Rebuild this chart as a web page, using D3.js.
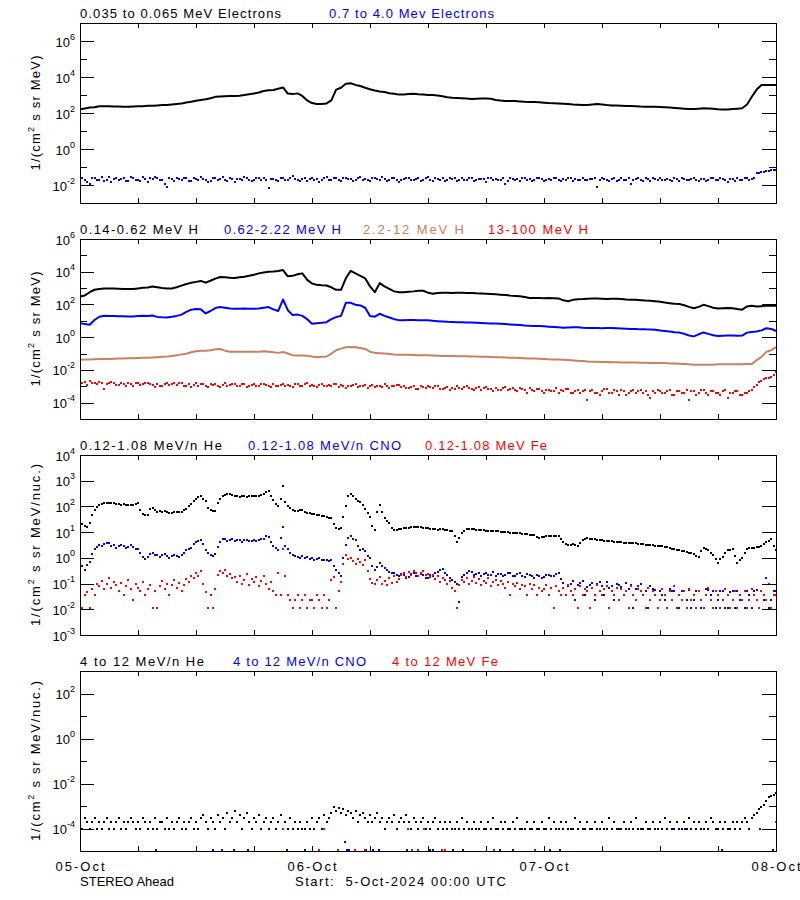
<!DOCTYPE html>
<html><head><meta charset="utf-8">
<script src="https://cdn.jsdelivr.net/npm/d3@7/dist/d3.min.js"></script>
<style>
html,body{margin:0;padding:0;background:#fff;}
svg{display:block;}
text{font-family:"Liberation Sans",Arial,sans-serif;}
</style></head><body>
<svg id="chart" width="800" height="900"></svg>
<script>
// ---------------- time grids (hours after 2024-10-05 00:00 UTC) ----------------
const startDate = "2024-10-05T00:00:00Z";
const halfHourSteps = d3.range(145).map(i => i * 0.5);
const quarterHourSteps = d3.range(289).map(i => i * 0.25);
const tickHours = d3.range(0, 73, 6);
const dayHours = [0, 24, 48, 72];

// ---------------- Panel 1: electrons ----------------
const electronsLow = [ // 0.035-0.065 MeV (half-hourly)
 160,180,200,210,240,240,235,230,230,225,
 225,230,235,240,250,255,265,275,280,295,
 315,340,380,420,480,525,575,660,790,830,
 850,870,870,910,1000,1100,1200,1380,1660,1820,
 1900,2240,2630,1200,1120,1230,890,500,355,315,
 315,340,500,2000,2510,4170,4470,3630,3160,2510,
 2090,1780,1580,1480,1260,1170,1050,1070,1150,1170,
 1100,1050,1000,1000,930,850,760,710,680,660,
 630,600,615,630,630,615,525,490,470,470,
 457,437,417,407,407,390,372,355,347,340,
 330,315,300,290,275,280,300,315,300,275,
 265,257,250,245,245,240,230,225,225,220,
 215,210,200,190,182,174,166,166,174,182,
 178,170,162,158,158,166,174,182,300,800,
 2000,3630,3630,3630,3630];
const electronsHigh = [ // 0.7-4.0 MeV (quarter-hourly)
 .022,.026,.018,.015,.012,.024,.025,.02,
 .02,.028,.016,.019,.027,.014,.021,.025,
 .019,.022,.024,.016,.017,.028,.023,.019,
 .02,.017,.029,.021,.015,.024,.021,.027,
 .025,.019,.018,.012,.008,.023,.022,.017,
 .026,.021,.019,.024,.023,.017,.016,.025,
 .021,.019,.028,.022,.02,.015,.017,.024,
 .024,.02,.022,.027,.019,.016,.025,.022,
 .015,.021,.022,.018,.027,.023,.02,.016,
 .018,.025,.023,.02,.026,.019,.007,.022,
 .021,.018,.017,.024,.024,.019,.02,.026,
 .03,.022,.019,.016,.022,.025,.016,.021,
 .025,.019,.021,.014,.018,.023,.027,.02,
 .02,.024,.023,.018,.016,.026,.024,.021,
 .021,.017,.019,.023,.029,.02,.022,.018,
 .017,.024,.025,.021,.02,.027,.022,.016,
 .018,.023,.026,.02,.015,.018,.021,.025,
 .024,.019,.019,.022,.023,.017,.02,.026,
 .028,.02,.017,.023,.022,.019,.025,.016,
 .018,.023,.021,.026,.016,.02,.024,.018,
 .02,.025,.026,.017,.019,.022,.022,.021,
 .015,.026,.023,.018,.021,.02,.018,.025,
 .011,.017,.024,.021,.02,.022,.017,.023,
 .025,.019,.021,.016,.019,.024,.023,.021,
 .016,.02,.022,.018,.026,.023,.018,.016,
 .021,.019,.024,.025,.017,.022,.02,.018,
 .023,.02,.019,.021,.022,.026,.008,.019,
 .025,.022,.018,.017,.021,.023,.016,.02,
 .024,.019,.02,.024,.012,.018,.022,.025,
 .019,.016,.025,.021,.017,.024,.021,.018,
 .023,.02,.018,.022,.02,.017,.026,.021,
 .016,.024,.022,.019,.019,.022,.024,.018,
 .017,.021,.021,.016,.02,.025,.025,.02,
 .018,.023,.022,.019,.015,.021,.021,.017,
 .024,.02,.019,.023,.023,.018,.021,.025,
 .045,.048,.05,.055,.06,.063,.065,.066,
 .068];

// ---------------- Panel 2: protons ----------------
const protons014 = [ // 0.14-0.62 MeV H (half-hourly)
 310,355,560,790,890,930,955,930,910,890,
 870,870,955,1050,1100,1260,1120,1000,955,955,
 1120,1410,1780,2090,2400,2750,2140,2820,3800,4790,
 4570,4270,4170,4570,5010,5620,6610,7940,8910,10000,
 10500,11200,12600,5250,5620,7080,7940,3160,1910,1580,
 1480,1450,1120,790,790,3980,11200,7940,5620,3980,
 1260,560,2000,1260,890,630,550,560,600,630,
 680,690,525,457,500,525,513,500,525,513,
 500,500,479,468,457,437,417,398,372,347,
 331,316,282,251,245,245,240,245,240,234,
 178,158,191,209,214,224,234,229,224,219,
 224,224,214,200,191,191,182,174,170,158,
 148,132,120,110,107,89,71,58,71,95,
 79,63,56,58,60,59,52,48,76,83,
 76,79,83,87,83];
const protons062 = [ // 0.62-2.22 MeV H (half-hourly)
 7.4,6.3,5.8,11.2,17.8,20.4,20,19.5,19.1,19.1,
 18.6,18.6,20,20.4,20,20.9,17.4,16.6,16.2,17.8,
 20,24,35.5,47.9,52.5,50.1,28.2,39.8,60.3,69.2,
 63.1,57.5,55,55,56.2,55,55,57.5,63.1,69.2,
 50.1,39.8,200,44.7,22.4,24,20,12.6,6.6,7.2,
 7.6,8.3,12.6,17,20,126,126,95.5,87.1,63.1,
 20,17.8,26.9,20,15.8,12.6,11,11,11.2,11.2,
 11,10.7,10.7,10,9.5,9.1,8.7,8.5,8.3,8.1,
 7.9,7.9,7.6,7.4,7.2,6.9,6.8,6.6,6.3,6,
 5.8,5.5,5.2,5,4.9,4.8,4.6,4.4,4.2,4,
 3.8,3.9,4,4,3.8,3.7,3.7,3.6,3.5,3.6,
 3.6,3.5,3.4,3.3,3.2,3.2,3,3,2.9,2.8,
 2.6,2.4,2.2,2,1.9,1.6,1.26,1.12,1.5,1.95,
 1.6,1.3,1.2,1.23,1.26,1.26,1.23,1.26,1.9,2.1,
 2.2,2.6,3.5,3.2,2.4];
const protons22 = [ // 2.2-12 MeV H (half-hourly)
 .042,.043,.044,.045,.046,.047,.047,.048,.049,.05,
 .051,.052,.054,.055,.056,.058,.06,.063,.066,.071,
 .079,.089,.098,.12,.14,.15,.15,.16,.18,.19,
 .15,.13,.13,.13,.13,.13,.13,.13,.14,.13,
 .12,.11,.126,.1,.079,.076,.076,.074,.066,.06,
 .063,.066,.1,.16,.2,.24,.25,.24,.22,.19,
 .13,.11,.105,.1,.093,.087,.085,.085,.083,.081,
 .079,.079,.078,.076,.074,.072,.071,.071,.069,.068,
 .068,.066,.065,.063,.063,.062,.06,.059,.058,.056,
 .055,.054,.052,.05,.049,.048,.047,.045,.044,.043,
 .042,.04,.038,.036,.035,.033,.032,.031,.03,.03,
 .029,.029,.028,.028,.028,.028,.027,.027,.026,.026,
 .026,.026,.025,.025,.024,.023,.022,.021,.021,.021,
 .021,.021,.022,.022,.022,.022,.022,.022,.023,.023,
 .04,.063,.126,.16,.25];
const protons13 = [ // 13-100 MeV H (quarter-hourly)
 13e-4,15e-4,18e-4,12e-4,20e-4,17e-4,16e-4,14e-4,
 19e-4,15e-4,7e-4,13e-4,15e-4,18e-4,17e-4,12e-4,
 12e-4,16e-4,14e-4,11e-4,16e-4,13e-4,11e-4,15e-4,
 15e-4,12e-4,13e-4,17e-4,17e-4,14e-4,12e-4,9e-4,
 14e-4,11e-4,10e-4,13e-4,15e-4,12e-4,13e-4,16e-4,
 12e-4,15e-4,16e-4,10e-4,11e-4,14e-4,9e-4,12e-4,
 15e-4,11e-4,13e-4,14e-4,11e-4,9e-4,14e-4,12e-4,
 13e-4,10e-4,9e-4,12e-4,15e-4,11e-4,12e-4,14e-4,
 14e-4,10e-4,11e-4,13e-4,13e-4,9e-4,10e-4,12e-4,
 13e-4,11e-4,10e-4,14e-4,14e-4,12e-4,11e-4,9e-4,
 13e-4,10e-4,10e-4,12e-4,14e-4,11e-4,12e-4,10e-4,
 9e-4,13e-4,13e-4,11e-4,11e-4,14e-4,15e-4,10e-4,
 12e-4,10e-4,9e-4,12e-4,13e-4,11e-4,11e-4,12e-4,
 10e-4,13e-4,14e-4,9e-4,12e-4,11e-4,8e-4,10e-4,
 11e-4,12e-4,13e-4,9e-4,10e-4,11e-4,12e-4,8e-4,
 10e-4,12e-4,9e-4,11e-4,11e-4,9e-4,13e-4,10e-4,
 8e-4,10e-4,10e-4,12e-4,12e-4,9e-4,11e-4,8e-4,
 8e-4,9e-4,10e-4,7e-4,7e-4,11e-4,9e-4,8e-4,
 11e-4,9e-4,8e-4,10e-4,10e-4,7e-4,7e-4,8e-4,
 9e-4,6e-4,8e-4,7e-4,10e-4,8e-4,7e-4,9e-4,
 10e-4,8e-4,7e-4,6e-4,8e-4,9e-4,6e-4,8e-4,
 9e-4,7e-4,7e-4,5e-4,8e-4,6e-4,6e-4,8e-4,
 9e-4,6e-4,7e-4,8e-4,6e-4,5e-4,8e-4,7e-4,
 6e-4,4e-4,8e-4,6e-4,5e-4,7e-4,7e-4,5e-4,
 4e-4,6e-4,6e-4,5e-4,5e-4,8e-4,4e-4,6e-4,
 5e-4,7e-4,7e-4,4e-4,4e-4,5e-4,6e-4,4e-4,
 5e-4,6e-4,1.5e-4,5e-4,6e-4,4e-4,4e-4,3e-4,
 5e-4,7e-4,7e-4,4e-4,4e-4,6e-4,5e-4,3e-4,
 6e-4,5e-4,3e-4,4e-4,5e-4,6e-4,4e-4,5e-4,
 6e-4,4e-4,5e-4,3e-4,2e-4,5e-4,4e-4,6e-4,
 5e-4,4e-4,4e-4,5e-4,6e-4,3e-4,3e-4,5e-4,
 5e-4,4e-4,4e-4,6e-4,1.5e-4,5e-4,5e-4,3e-4,
 4e-4,6e-4,6e-4,4e-4,3e-4,5e-4,5e-4,4e-4,
 4e-4,3e-4,5e-4,6e-4,2e-4,4e-4,4e-4,5e-4,
 5e-4,3e-4,3e-4,4e-4,4e-4,5e-4,6e-4,9e-4,
 12e-4,18e-4,22e-4,28e-4,30e-4,32e-4,35e-4,50e-4,
 75e-4];

// ---------------- Panel 3: 0.12-1.08 MeV/n ions (quarter-hourly) ----------------
const heliumLow = [
 32,20,18,16,22,45,71,95,
 112,125,132,140,141,135,132,128,
 126,118,120,115,112,110,115,125,
 132,70,50,45,47,80,89,70,
 63,66,60,65,63,56,58,60,
 59,62,60,70,83,100,120,160,
 200,240,257,200,158,90,71,66,
 68,130,200,250,282,300,316,280,
 263,250,240,245,251,240,245,250,
 257,260,263,290,316,370,398,260,
 178,120,105,200,617,150,100,85,
 71,68,66,70,72,60,56,54,
 52,50,48,46,44,42,40,37,
 35,20,14,13,14.5,40,100,250,
 316,250,200,170,151,110,79,55,
 40,18,12,60,115,60,35,28,
 22,15,12.6,12.5,12.9,13.5,14.1,14.6,
 15.1,15.5,16.2,16,15.8,15.2,14.8,14.5,
 14.1,13.8,13.5,12.8,12.6,13,13.2,12.5,
 12,11.5,11.2,7,4,6,8.9,11,
 12.9,13,13.2,12.8,12.6,12.3,12,11.8,
 11.5,11.3,11.2,11,10.7,10.6,10.5,10.2,
 10,9.7,9.5,9.4,9.3,9.1,8.9,8.7,
 8.5,8.2,7.9,7.7,7.6,6.5,5.8,6.2,
 6.6,6.9,7.2,7.1,7.1,7,6.9,5.5,
 4,3.5,3.2,3.3,3.5,3.1,2.8,3.8,
 5,5.5,5.8,5.6,5.5,5.2,5,4.9,
 4.8,4.7,4.6,4.5,4.5,4.3,4.2,4.1,
 4,3.9,3.8,3.7,3.7,3.8,3.8,3.6,
 3.5,3.4,3.3,3.2,3.2,3.1,3,2.9,
 2.8,2.8,2.7,2.6,2.5,2.3,2.2,2.1,
 2,1.9,1.8,1.7,1.6,1.5,1.4,1.2,
 1.1,1.8,2.5,2.2,2,1.6,1.3,0.9,
 0.63,0.9,1.1,1.5,2,2.1,2.2,1.2,
 0.63,0.8,1,1.6,2.3,2.4,2.5,2.5,
 2.6,2.7,2.8,3.4,4,4.6,5.2,3,
 2];
const cnoLow = [
 1.0,0.5,0.35,0.55,0.7,1.4,2.2,2.6,
 3.2,2.9,3.5,3.9,3.7,3.0,3.2,2.5,
 2.8,3.3,3.0,2.4,2.6,3.1,2.7,2.2,
 2.3,1.5,1.1,0.9,1.1,1.4,1.6,1.3,
 1.3,1.1,1.26,1.4,1.2,1.0,1.15,1.3,
 1.17,1.1,1.26,1.6,2.0,2.3,2.5,3.4,
 4.0,4.5,4.9,3.5,2.0,1.5,1.3,1.2,
 1.4,2.6,4.0,5.5,5.2,4.4,5.0,5.4,
 4.6,4.9,5.0,4.3,4.8,5.1,4.6,4.4,
 5.0,4.5,4.8,5.3,5.6,6.8,6.6,4.0,
 2.8,2.4,2.0,6.0,16,3.0,2.2,1.5,
 1.26,1.2,1.1,0.95,1.15,1.0,1.07,0.9,
 1.0,0.85,0.89,0.95,0.83,0.8,0.83,0.75,
 0.79,0.5,0.35,0.25,0.2,1.0,3.2,6.0,
 7.1,5.5,5.0,3.0,2.0,2.2,1.9,1.2,
 1.0,0.5,0.34,0.45,0.62,0.5,0.4,0.33,
 0.29,0.26,0.25,0.21,0.2,0.24,0.22,0.17,
 0.18,0.23,0.25,0.2,0.19,0.24,0.21,0.17,
 0.17,0.21,0.2,0.26,0.28,0.35,0.38,0.26,
 0.22,0.17,0.14,0.12,0.1,0.02,0.18,0.22,
 0.25,0.3,0.28,0.22,0.24,0.26,0.2,0.23,
 0.26,0.21,0.22,0.27,0.2,0.23,0.24,0.19,
 0.21,0.25,0.25,0.2,0.19,0.24,0.26,0.2,
 0.18,0.23,0.22,0.19,0.16,0.21,0.2,0.17,
 0.18,0.22,0.22,0.19,0.2,0.23,0.25,0.15,
 0.11,0.035,0.079,0.1,0.126,0.023,0.089,0.11,
 0.13,0.035,0.076,0.09,0.11,0.023,0.1,0.12,
 0.083,0.035,0.12,0.07,0.079,0.023,0.1,0.085,
 0.071,0.035,0.105,0.06,0.089,0.011,0.063,0.08,
 0.1,0.035,0.05,0.011,0.079,0.06,0.056,0.011,
 0.05,0.035,0.023,0.011,0.063,0.05,0.05,0.011,
 0.011,0.05,0.05,0.023,0.056,0.011,0.023,0.05,
 0.05,0.011,0.011,0.06,0.056,0.035,0.05,0.011,
 0.023,0.05,0.05,0.011,0.011,0.045,0.052,0.011,
 0.05,0.023,0.023,0.011,0.05,0.035,0.011,0.05,
 0.056,0.011,0.05,0.023,0.16,0.011,0.023,0.05,
 0.05];
const ironLow = [
 0.048,0.011,0.035,0.048,0.011,0.06,0.035,0.1,
 0.08,0.13,0.06,0.1,0.16,0.07,0.12,0.09,
 0.05,0.11,0.035,0.08,0.14,0.06,0.023,0.1,
 0.07,0.05,0.12,0.035,0.06,0.09,0.011,0.05,
 0.011,0.08,0.13,0.06,0.1,0.035,0.09,0.14,
 0.07,0.11,0.05,0.09,0.15,0.12,0.2,0.17,
 0.25,0.19,0.3,0.1,0.048,0.011,0.035,0.011,
 0.06,0.22,0.3,0.26,0.35,0.2,0.24,0.16,
 0.18,0.12,0.2,0.1,0.14,0.23,0.09,0.15,
 0.12,0.18,0.08,0.13,0.2,0.1,0.06,0.12,
 0.05,0.035,0.25,0.035,2.3,0.2,0.035,0.023,
 0.011,0.023,0.035,0.011,0.023,0.035,0.011,0.023,
 0.023,0.011,0.035,0.023,0.011,0.035,0.011,0.023,
 0.14,0.18,0.011,0.05,0.12,0.6,1.3,0.9,
 1.0,0.75,0.6,0.9,0.7,0.55,0.8,0.3,
 0.15,0.11,0.1,0.14,0.18,0.1,0.13,0.09,
 0.16,0.11,0.2,0.12,0.15,0.22,0.25,0.18,
 0.28,0.22,0.3,0.26,0.2,0.25,0.3,0.22,
 0.24,0.18,0.21,0.15,0.19,0.12,0.16,0.14,
 0.1,0.13,0.07,0.05,0.011,0.09,0.14,0.12,
 0.16,0.1,0.13,0.18,0.11,0.15,0.09,0.13,
 0.11,0.16,0.08,0.12,0.14,0.09,0.13,0.1,
 0.07,0.12,0.035,0.1,0.08,0.11,0.06,0.09,
 0.08,0.035,0.1,0.06,0.09,0.035,0.07,0.05,
 0.06,0.09,0.035,0.07,0.011,0.08,0.05,0.035,
 0.07,0.035,0.09,0.05,0.035,0.06,0.011,0.08,
 0.035,0.06,0.05,0.011,0.07,0.035,0.09,0.05,
 0.035,0.06,0.08,0.011,0.05,0.035,0.07,0.023,
 0.06,0.035,0.05,0.011,0.08,0.035,0.023,0.06,
 0.05,0.035,0.011,0.07,0.023,0.05,0.035,0.011,
 0.023,0.06,0.035,0.011,0.05,0.023,0.08,0.011,
 0.035,0.023,0.05,0.011,0.06,0.023,0.035,0.011,
 0.05,0.023,0.011,0.035,0.07,0.023,0.011,0.05,
 0.035,0.011,0.023,0.06,0.035,0.011,0.023,0.05,
 0.011,0.035,0.023,0.05,0.011,0.023,0.06,0.035,
 0.023,0.011,0.05,0.035,0.023,0.1,0.011,0.035,
 0.035];

// ---------------- Panel 4: 4-12 MeV/n ions ----------------
const heliumHigh = [ // quarter-hourly
 2e-4,1e-4,3e-4,2e-4,1e-4,2e-4,3e-4,1e-4,
 2e-4,1e-4,2e-4,3e-4,1e-4,2e-4,1e-4,2e-4,
 3e-4,1e-4,2e-4,1e-4,2e-4,3e-4,2e-4,1e-4,
 2e-4,1e-4,3e-4,2e-4,1e-4,2e-4,1e-4,3e-4,
 1e-4,2e-4,2e-4,1e-4,3e-4,1e-4,2e-4,1e-4,
 2e-4,3e-4,1e-4,2e-4,1e-4,2e-4,3e-4,1e-4,
 2e-4,1e-4,3e-4,4e-4,2e-4,1e-4,3e-4,2e-4,
 1e-4,4e-4,2e-4,3e-4,1e-4,5e-4,2e-4,3e-4,
 6e-4,2e-4,4e-4,1e-4,3e-4,5e-4,2e-4,1e-4,
 3e-4,2e-4,4e-4,1e-4,2e-4,3e-4,1e-4,2e-4,
 3e-4,1e-4,2e-4,4e-4,1e-4,2e-4,1e-4,3e-4,
 1e-4,2e-4,1e-4,2e-4,1e-4,1e-4,2e-4,1e-4,
 3e-4,1e-4,2e-4,3e-4,1e-4,4e-4,2e-4,3e-4,
 5e-4,9e-4,6e-4,8e-4,5e-4,7e-4,4e-4,6e-4,
 5e-4,3e-4,6e-4,2e-4,4e-4,5e-4,3e-4,2e-4,
 4e-4,2e-4,3e-4,5e-4,2e-4,3e-4,1e-4,2e-4,
 3e-4,2e-4,4e-4,1e-4,2e-4,3e-4,2e-4,4e-4,
 2e-4,1e-4,3e-4,2e-4,1e-4,2e-4,3e-4,1e-4,
 2e-4,1e-4,2e-4,3e-4,1e-4,2e-4,1e-4,2e-4,
 1e-4,2e-4,1e-4,1e-4,2e-4,1e-4,3e-4,1e-4,
 2e-4,1e-4,1e-4,2e-4,1e-4,1e-4,2e-4,1e-4,
 1e-4,2e-4,1e-4,3e-4,1e-4,1e-4,2e-4,1e-4,
 2e-4,1e-4,1e-4,2e-4,1e-4,3e-4,1e-4,1e-4,
 1e-4,2e-4,1e-4,1e-4,2e-4,1e-4,1e-4,2e-4,
 1e-4,1e-4,3e-4,1e-4,2e-4,1e-4,1e-4,2e-4,
 1e-4,2e-4,1e-4,1e-4,1e-4,3e-4,1e-4,2e-4,
 1e-4,1e-4,2e-4,1e-4,1e-4,2e-4,1e-4,1e-4,
 2e-4,1e-4,1e-4,3e-4,1e-4,2e-4,1e-4,1e-4,
 1e-4,2e-4,1e-4,1e-4,2e-4,1e-4,3e-4,1e-4,
 1e-4,1e-4,2e-4,1e-4,1e-4,2e-4,1e-4,1e-4,
 2e-4,1e-4,3e-4,1e-4,2e-4,1e-4,1e-4,2e-4,
 1e-4,1e-4,2e-4,1e-4,3e-4,1e-4,2e-4,1e-4,
 2e-4,1e-4,1e-4,2e-4,1e-4,3e-4,2e-4,1e-4,
 1e-4,2e-4,1e-4,2e-4,1e-4,1e-4,2e-4,1e-4,
 2e-4,1e-4,2e-4,3e-4,2e-4,1e-4,3e-4,4e-4,
 5e-4,7e-4,9e-4,11e-4,16e-4,25e-4,28e-4,32e-4,
 36e-4];
const cnoHighHours = [7.9,13.8,14.7,15.9,17.4,21.4,23.3,27.4,27.6,27.8,29.6,30.3,30.9,33.8,36.2,36.5,38.6,39.6,43.4,44.8,48.6,49.7,62.6,66.4,70.3,71.7];
const cnoHighValues = [1.15e-5,1.15e-5,1.15e-5,1.15e-5,1.15e-5,1.15e-5,1.15e-5,2.5e-5,1.15e-5,1.15e-5,1.15e-5,1.15e-5,1.15e-5,1.15e-5,1.15e-5,1.15e-5,1.15e-5,1.15e-5,1.15e-5,1.15e-5,1.15e-5,1.15e-5,1e-4,1.15e-5,1e-4,1.15e-5];
const ironHighHours = [21.0,24.7,25.2,26.7,28.4,29.5,33.9,34.3,35.0,35.6,37.4,37.8,42.8,47.1,72.0];
const ironHighValues = [1e-4,1.15e-5,1e-4,1.15e-5,1.15e-5,1.15e-5,1e-4,1.15e-5,1.15e-5,1e-4,1.15e-5,1.15e-5,1.15e-5,1.15e-5,2e-4];

// ---------------- styling / layout ----------------
const BLACK = "#000000", BLUE = "#0000ff", RED = "#ff0000", TAN = "#c8825f";
const X0 = 80, X1 = 776;

const panels = [
  { top: 23, bottom: 203, domain: [1e-3, 1e7],
    major: [1e-2, 1e0, 1e2, 1e4, 1e6], minor: [1e-1, 1e1, 1e3, 1e5],
    yTitle: ["1/(cm", "2", " s sr MeV)"], yTitleLen: 115,
    titles: [["0.035 to 0.065 MeV Electrons", BLACK, 80, 201], ["0.7 to 4.0 Mev Electrons", BLUE, 329, 165]],
    series: [[halfHourSteps, electronsLow, BLACK, "line"], [quarterHourSteps, electronsHigh, BLUE, "dot"]] },
  { top: 239, bottom: 419, domain: [1e-5, 1e6],
    major: [1e-4, 1e-2, 1e0, 1e2, 1e4, 1e6], minor: [1e-3, 1e-1, 1e1, 1e3, 1e5],
    yTitle: ["1/(cm", "2", " s sr MeV)"], yTitleLen: 115,
    titles: [["0.14-0.62 MeV H", BLACK, 80, 118], ["0.62-2.22 MeV H", BLUE, 224, 117], ["2.2-12 MeV H", TAN, 363, 101], ["13-100 MeV H", RED, 488, 100]],
    series: [[halfHourSteps, protons014, BLACK, "line"], [halfHourSteps, protons062, BLUE, "line"], [halfHourSteps, protons22, TAN, "line"], [quarterHourSteps, protons13, RED, "dot"]] },
  { top: 455, bottom: 635, domain: [1e-3, 1e4],
    major: [1e-3, 1e-2, 1e-1, 1e0, 1e1, 1e2, 1e3, 1e4], minor: [],
    yTitle: ["1/(cm", "2", " s sr MeV/nuc.)"], yTitleLen: 162,
    titles: [["0.12-1.08 MeV/n He", BLACK, 80, 142], ["0.12-1.08 MeV/n CNO", BLUE, 248, 153], ["0.12-1.08 MeV Fe", RED, 425, 122]],
    series: [[quarterHourSteps, heliumLow, BLACK, "dot"], [quarterHourSteps, cnoLow, BLUE, "dot"], [quarterHourSteps, ironLow, RED, "dot"]] },
  { top: 671, bottom: 851, domain: [1e-5, 1e3],
    major: [1e-4, 1e-2, 1e0, 1e2], minor: [1e-3, 1e-1, 1e1],
    yTitle: ["1/(cm", "2", " s sr MeV/nuc.)"], yTitleLen: 160,
    titles: [["4 to 12 MeV/n He", BLACK, 80, 124], ["4 to 12 MeV/n CNO", BLUE, 233, 133], ["4 to 12 MeV Fe", RED, 392, 106]],
    series: [[quarterHourSteps, heliumHigh, BLACK, "dot"], [cnoHighHours, cnoHighValues, BLUE, "dot"], [ironHighHours, ironHighValues, RED, "dot"]] }
];

// ---------------- drawing ----------------
const svg = d3.select("#chart");
const t0 = new Date(startDate).getTime();
const toDate = h => new Date(t0 + h * 3600000);
const x = d3.scaleUtc().domain([toDate(0), toDate(72)]).range([X0, X1]);
const tickDates = tickHours.map(toDate);
const fmtDay = d3.utcFormat("%d-%b");

function styleAxis(g) {
  g.select(".domain").remove();
  g.selectAll("line").attr("stroke", "#000").attr("stroke-width", 1).attr("shape-rendering", "crispEdges");
  g.attr("font-family", null).attr("font-size", null);
}

panels.forEach((p, pi) => {
  const y = d3.scaleLog().domain(p.domain).range([p.bottom, p.top]);
  const g = svg.append("g");

  const clipId = "clip" + pi;
  svg.append("clipPath").attr("id", clipId).append("rect")
    .attr("x", X0).attr("y", p.top).attr("width", X1 - X0).attr("height", p.bottom - p.top + 1);

  const plot = g.append("g").attr("clip-path", `url(#${clipId})`);
  p.series.forEach(([times, vals, color, mark]) => {
    const pts = d3.zip(times, vals).filter(d => d[1] > 0);
    if (mark === "line") {
      plot.append("path").datum(pts)
        .attr("fill", "none").attr("stroke", color).attr("stroke-width", 2)
        .attr("stroke-linejoin", "round")
        .attr("d", d3.line().x(d => x(toDate(d[0]))).y(d => y(d[1])));
    } else {
      plot.append("g").selectAll("rect").data(pts).join("rect")
        .attr("x", d => Math.round(x(toDate(d[0]))) - 1)
        .attr("y", d => Math.round(y(d[1])) - 1)
        .attr("width", 2).attr("height", 2)
        .attr("fill", color);
    }
  });

  // frame
  g.append("rect").attr("x", X0 + 0.5).attr("y", Math.round(p.top) + 0.5)
    .attr("width", X1 - X0).attr("height", Math.round(p.bottom - p.top))
    .attr("fill", "none").attr("stroke", "#000").attr("stroke-width", 1);

  // x ticks (inward) on bottom and top
  g.append("g").attr("transform", `translate(0,${p.bottom})`)
    .call(d3.axisBottom(x).tickValues(tickDates).tickSize(-5).tickFormat(""))
    .call(styleAxis);
  g.append("g").attr("transform", `translate(0,${p.top})`)
    .call(d3.axisTop(x).tickValues(tickDates).tickSize(-5).tickFormat(""))
    .call(styleAxis);

  // y ticks: major (labelled) and minor, left and right, pointing inward
  const left = g.append("g").attr("transform", `translate(${X0},0)`)
    .call(d3.axisLeft(y).tickValues(p.major).tickSize(-14).tickPadding(5))
    .call(styleAxis);
  left.selectAll("text").each(function(v) {
    const e = Math.round(Math.log10(v));
    const t = d3.select(this).text(null)
      .attr("dy", null).attr("y", 5).attr("x", -5)
      .attr("font-size", 13).attr("fill", "#000").attr("text-anchor", "end");
    t.append("tspan").text("10");
    t.append("tspan").attr("dy", -7).attr("font-size", 9).text(e < 0 ? "-" + (-e) : String(e));
  });
  g.append("g").attr("transform", `translate(${X1},0)`)
    .call(d3.axisRight(y).tickValues(p.major).tickSize(-14).tickFormat(""))
    .call(styleAxis);
  if (p.minor.length) {
    g.append("g").attr("transform", `translate(${X0},0)`)
      .call(d3.axisLeft(y).tickValues(p.minor).tickSize(-7).tickFormat(""))
      .call(styleAxis);
    g.append("g").attr("transform", `translate(${X1},0)`)
      .call(d3.axisRight(y).tickValues(p.minor).tickSize(-7).tickFormat(""))
      .call(styleAxis);
  }

  // panel titles
  p.titles.forEach(([txt, color, tx, len]) => {
    g.append("text").attr("x", tx).attr("y", p.top - 5.5)
      .attr("font-size", 13).attr("fill", color)
      .attr("textLength", len).attr("lengthAdjust", "spacing")
      .text(txt);
  });

  // y title
  const yt = g.append("text")
    .attr("transform", `translate(40,${(p.top + p.bottom) / 2}) rotate(-90)`)
    .attr("text-anchor", "middle").attr("font-size", 13).attr("fill", "#000")
    .attr("textLength", p.yTitleLen).attr("lengthAdjust", "spacing");
  yt.append("tspan").text(p.yTitle[0]);
  yt.append("tspan").attr("dy", -6).attr("font-size", 9).text(p.yTitle[1]);
  yt.append("tspan").attr("dy", 6).text(p.yTitle[2]);

  // day labels below last panel
  if (pi === panels.length - 1) {
    g.selectAll(".daylab").data(dayHours).join("text")
      .attr("x", h => x(toDate(h))).attr("y", p.bottom + 19.5)
      .attr("text-anchor", "middle").attr("font-size", 13).attr("fill", "#000")
      .attr("textLength", 49).attr("lengthAdjust", "spacing")
      .text(h => fmtDay(toDate(h)));
  }
});

svg.append("text").attr("x", 80).attr("y", 885.5).attr("font-size", 13)
  .attr("textLength", 94).attr("lengthAdjust", "spacing").text("STEREO Ahead");
svg.append("text").attr("x", 295).attr("y", 885.5).attr("font-size", 13)
  .attr("textLength", 211).attr("lengthAdjust", "spacing")
  .style("white-space", "pre").text("Start:  5-Oct-2024 00:00 UTC");
</script>
</body></html>
